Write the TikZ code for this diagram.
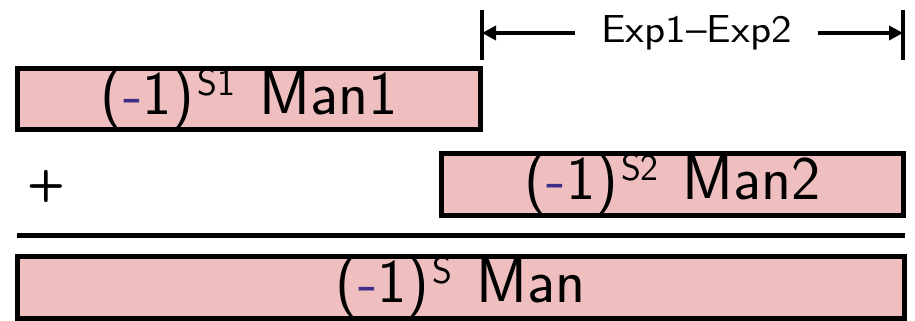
\documentclass[tikz,border=0pt]{standalone}
\usetikzlibrary{arrows.meta}
\definecolor{boxfill}{RGB}{239,191,191}
\definecolor{minuscol}{RGB}{63,45,140}
\newcommand{\sgnterm}[2]{(\textcolor{minuscol}{-}1)\kern3pt\raisebox{19pt}{\fontsize{38}{38}\selectfont #1}\hspace{24pt}#2}
\tikzset{
  mantbox/.style={draw=black, fill=boxfill, line width=5pt, inner sep=0pt,
    minimum height=61pt, font=\sffamily\fontsize{62}{64}\selectfont},
  dimbar/.style={line width=4pt},
  dimarrow/.style={line width=4pt, -{Triangle[length=14pt,width=14pt]}},
  rulefont/.style={font=\sffamily\fontsize{39}{42}\selectfont}
}
\begin{document}
\begin{tikzpicture}[x=1pt,y=-1pt]
\useasboundingbox (0,0) rectangle (915,321);
\node[mantbox, minimum width=463pt] (m1) at (249,99) {\sgnterm{S1}{Man1}};
\node[mantbox, minimum width=462pt] (m2) at (672.5,184.5) {\sgnterm{S2}{Man2}};
\node[mantbox, minimum width=887pt] (m) at (460.5,287.5) {\sgnterm{S}{Man}};
\node[font=\sffamily\bfseries\fontsize{44}{44}\selectfont, inner sep=0pt] (plus) at (46,186) {+};
\coordinate (rl) at (17,235.5);
\coordinate (rr) at (905,235.5);
\draw[line width=5pt] (rl) -- (rr);
\coordinate (bl1) at (482,10);
\coordinate (bl2) at (482,60);
\coordinate (br1) at (903,10);
\coordinate (br2) at (903,60);
\draw[dimbar] (bl1) -- (bl2);
\draw[dimbar] (br1) -- (br2);
\coordinate (dl) at (482,33);
\coordinate (dr) at (903,33);
\node[rulefont, inner xsep=0pt, inner ysep=0pt, minimum width=243pt] (lab) at (696.5,33) {\scalebox{1.12}[1]{Exp1--Exp2}};
\draw[dimarrow] (lab.west) -- (dl);
\draw[dimarrow] (lab.east) -- (dr);
\end{tikzpicture}
\end{document}
